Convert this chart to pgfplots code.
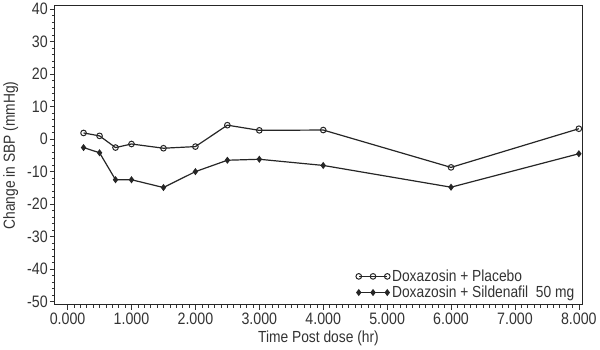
\documentclass[border=0pt]{standalone}
\usepackage{fontspec}
\setmainfont{Liberation Sans}[FakeStretch=0.86]
\usepackage{pgfplots}
\pgfplotsset{compat=1.18}
\begin{document}
\begin{tikzpicture}
\begin{axis}[
  scale only axis,
  width=524bp, height=297bp,
  xmin=-0.2, xmax=8.05,
  ymin=-51, ymax=41,
  xtick={0,1,...,8},
  ytick={-50,-40,...,40},
  minor x tick num=9,
  minor y tick num=4,
  tick align=outside,
  tick pos=left,
  major tick length=5bp,
  minor tick length=3bp,
  axis line style={line width=1.1pt, black!85},
  tick style={black!80, line width=0.6pt},
  x tick label style={/pgf/number format/.cd, fixed, fixed zerofill, precision=3},
  y tick label style={xshift=1.5bp},
  /pgf/number format/assume math mode=true,
  ticklabel style={font=\fontsize{16.5}{18}\selectfont, text=black!80},
  xlabel={Time Post dose (hr)},
  ylabel={Change in SBP (mmHg)},
  label style={font=\fontsize{16}{18}\selectfont, text=black!80},
  xlabel style={yshift=1bp},
  ylabel style={yshift=2bp},
  legend style={draw=none, fill=none, at={(0.995,0.005)}, anchor=south east,
    font=\fontsize{16}{16}\selectfont, text=black!80, row sep=-1bp},
  legend cell align=left,
  legend image code/.code={\draw[mark repeat=1,#1] plot coordinates {(0cm,0cm) (0.5cm,0cm) (1.0cm,0cm)};},
]
\addplot[black!85, line width=1.2pt, mark=o, mark size=2.8bp, mark options={line width=1pt}]
  coordinates {(0.25,1.9) (0.5,1.0) (0.75,-2.6) (1.0,-1.5) (1.5,-2.8) (2.0,-2.3) (2.5,4.3) (3.0,2.7) (4.0,2.8) (6.0,-8.7) (8.0,3.2)};
\addlegendentry{Doxazosin + Placebo}
\addplot[black!85, line width=1.2pt, mark=diamond*, mark size=2.6bp]
  coordinates {(0.25,-2.6) (0.5,-4.2) (0.75,-12.5) (1.0,-12.5) (1.5,-14.9) (2.0,-10.0) (2.5,-6.5) (3.0,-6.2) (4.0,-8.1) (6.0,-14.8) (8.0,-4.5)};
\addlegendentry{Doxazosin + Sildenafil\ \ 50 mg}
\end{axis}
\end{tikzpicture}
\end{document}
